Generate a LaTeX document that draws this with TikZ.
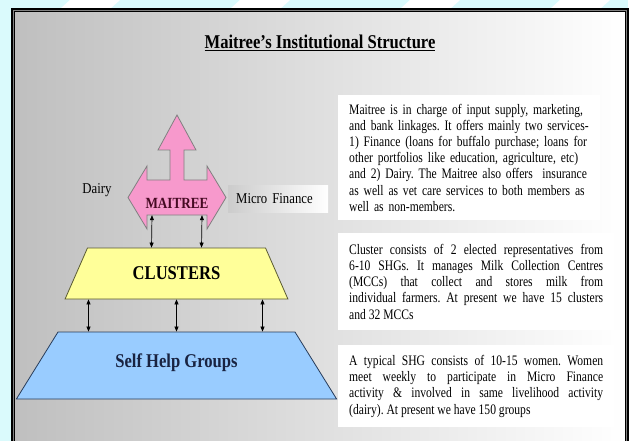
\documentclass[tikz,border=0pt]{standalone}
\usepackage{fontspec}
\setmainfont{Liberation Serif}[FakeStretch=0.85]
\newfontfamily\bodyfont{Liberation Serif}[FakeStretch=0.8]
\usetikzlibrary{shapes.geometric,positioning,arrows.meta}
\definecolor{framegray}{RGB}{128,128,128}
\definecolor{skycyan}{RGB}{218,250,252}
\definecolor{mtpink}{RGB}{247,153,204}
\definecolor{mtred}{RGB}{70,10,35}
\definecolor{clyellow}{RGB}{255,255,153}
\definecolor{cledge}{RGB}{90,90,50}
\definecolor{shgblue}{RGB}{153,204,255}
\definecolor{shgedge}{RGB}{40,60,90}
\definecolor{shgnavy}{RGB}{25,35,65}
\tolerance=10000
\hbadness=10000
\hyphenpenalty=10000
\frenchspacing

\begin{document}
\begin{tikzpicture}[x=1pt,y=-1pt,
        link/.style={{Triangle[length=5pt,width=4pt]}-{Triangle[length=5pt,width=4pt]}, line width=0.7pt},
        infobox/.style={fill=white, anchor=north west, inner xsep=11pt, inner ysep=0pt, font=\bodyfont\fontsize{14.5}{16.2}\selectfont},
        level/.style={trapezium, trapezium stretches=true, draw, line width=0.8pt, inner sep=0pt, font=\fontsize{19.5}{22}\selectfont\bfseries}]
                
                \useasboundingbox (0,0) rectangle (632,441);
                \clip (0,0) rectangle (632,441);
                
                %Backdrop and frame
                \fill[skycyan] (0,0) rectangle (632,441);
                \foreach \x in {70,240,410,560}
                \fill[white] (\x,0) -- (\x+50,0) -- (\x+40,9) -- (\x-10,9) -- cycle;
                \fill[white] (628,0) rectangle (632,441);
                \fill[left color=gray!50, right color=white] (15,12) rectangle (625,445);
                \draw[black, line width=1.3pt] (12,9) rectangle (628,450);
                \draw[framegray, line width=1.2pt] (13.3,10.3) rectangle (626.7,450);
                \draw[black, line width=0.8pt] (14.6,11.6) rectangle (625.4,450);
                
                %Title
                \node[font=\fontsize{19.5}{22}\selectfont\bfseries] (title) at (320,43) {\underline{Maitree's Institutional Structure}};
                
                %Maitree arrow
                \draw[framegray, fill=mtpink, line width=0.8pt] (128,197.5) -- (147,166) -- (147,180) -- (170,180) -- (170,150) -- (158,150) -- (177,115) -- (196,150) -- (184,150) -- (184,180) -- (207,180) -- (207,166) -- (226,197.5) -- (207,229) -- (207,215) -- (147,215) -- (147,229) -- cycle;
                \node[inner sep=0pt, minimum width=60, minimum height=24, text=mtred, font=\fontsize{15.5}{18}\selectfont\bfseries] (mt) at (177,203) {MAITREE};
                \node[font=\fontsize{15}{18}\selectfont] (dairy) at (97,190) {Dairy};
                \node[anchor=west, left color=gray!40, right color=white, text width=84, inner xsep=8pt, minimum height=27, font=\fontsize{15}{18}\selectfont] (mf) at (228,198.5) {Micro Finance};
                
                %Pyramid levels
                \node[level, fill=clyellow, draw=cledge, trapezium angle=50, minimum width=223, minimum height=51] (cl) at (176.5,273.5) {CLUSTERS};
                \node[level, fill=shgblue, draw=shgedge, text=shgnavy, trapezium angle=47, minimum width=321, minimum height=67, text height=13pt, text depth=10pt] (shg) at (176.5,365.5) {Self Help Groups};
                
                %Links between levels
                \foreach \dx in {-25,25}
                \draw[link] ([xshift=\dx pt]mt.south) -- ([xshift=\dx pt]cl.north);
                \foreach \dx in {-88,0,86}
                \draw[link] ([xshift=\dx pt]cl.south) -- ([xshift=\dx pt]shg.north);
                
                %Descriptions
                \node[infobox, text width=240, minimum height=125, align=left] (mtinfo) at (338,95) {Maitree is in charge of input supply, marketing,\\ and bank linkages. It offers mainly two services-\\ 1) Finance (loans for buffalo purchase; loans for\\ other portfolios like education, agriculture, etc)\\ and 2) Dairy. The Maitree also offers~ insurance\\ as well as vet care services to both members as\\ well as non-members.};
                \node[infobox, text width=254, minimum height=97, align=justify] (clinfo) at (338,233) {Cluster consists of 2 elected representatives from\linebreak 6-10 SHGs. It manages Milk Collection Centres\linebreak (MCCs) that collect and stores milk from\linebreak individual farmers. At present we have 15 clusters\linebreak and 32 MCCs};
                \node[infobox, text width=254, minimum height=82, align=justify] (shginfo) at (338,345) {A typical SHG consists of 10-15 women. Women\linebreak meet weekly to participate in Micro Finance\linebreak activity \& involved in same livelihood activity\linebreak (dairy). At present we have 150 groups};
                    
            \end{tikzpicture}
\end{document}
